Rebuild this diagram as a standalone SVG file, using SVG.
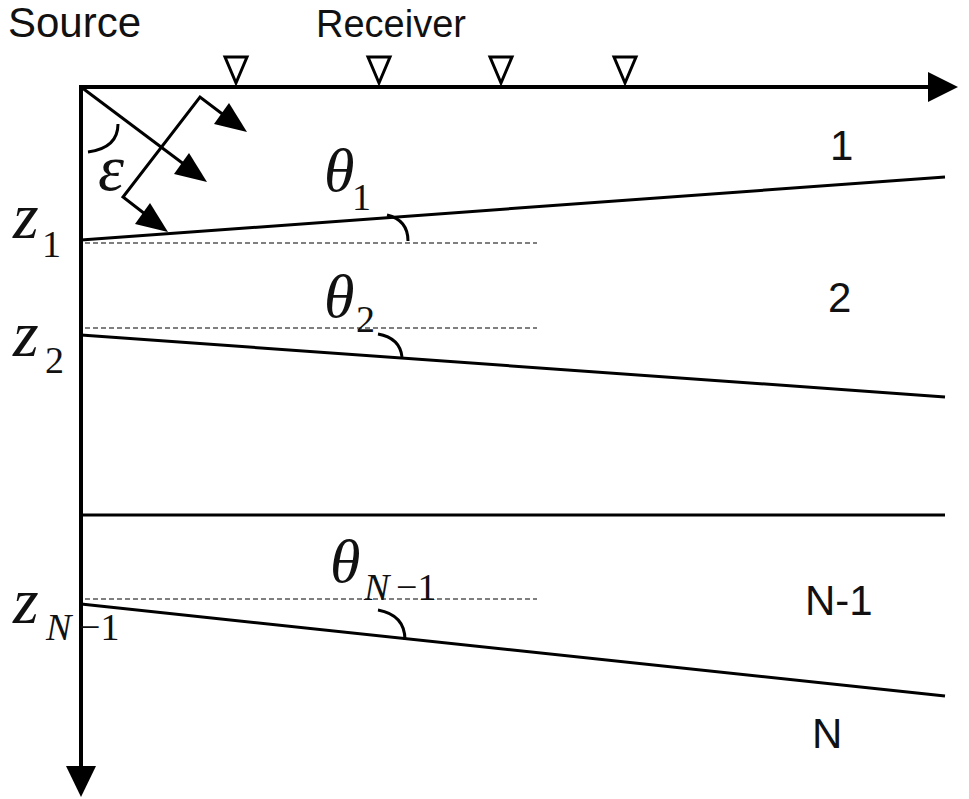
<svg xmlns="http://www.w3.org/2000/svg" width="969" height="799" viewBox="0 0 969 799">
<defs>
<style>
.ax{stroke:#000;stroke-width:4;fill:none}
.ln{stroke:#000;stroke-width:3;fill:none}
.ds{stroke:#555;stroke-width:1.5;stroke-dasharray:5 3;fill:none}
.arc{stroke:#000;stroke-width:3;fill:none}
.rc{stroke:#000;stroke-width:3;fill:#fff}
.sans{font-family:"Liberation Sans",Arial,sans-serif;fill:#111}
.math{font-family:"Liberation Serif","Times New Roman",serif;font-style:italic;fill:#111}
.num{font-family:"Liberation Serif","Times New Roman",serif;fill:#111}
</style>
</defs>
<rect width="969" height="799" fill="#fff"/>
<g id="labels">
<text class="sans" x="8" y="37" font-size="42">Source</text>
<text class="sans" x="316" y="37" font-size="38">Receiver</text>
</g>
<g id="connectors">
<line class="ax" x1="81" y1="87" x2="932" y2="87"/>
<path d="M958,87 L928,72 L928,102 z" fill="#000"/>
<line class="ax" x1="81" y1="85" x2="81" y2="770"/>
<path d="M81,797 L66,766 L96,766 z" fill="#000"/>
<line class="ln" x1="81" y1="240" x2="945" y2="177"/>
<line class="ln" x1="81" y1="335" x2="945" y2="397"/>
<line class="ln" x1="81" y1="515" x2="945" y2="515"/>
<line class="ln" x1="81" y1="604" x2="945" y2="696"/>
<line class="ds" x1="85" y1="243" x2="537" y2="243"/>
<line class="ds" x1="85" y1="328" x2="537" y2="328"/>
<line class="ds" x1="85" y1="599" x2="537" y2="599"/>
<path class="arc" d="M387,215 Q408,220 408,241"/>
<path class="arc" d="M378,334 Q400,338 402,357"/>
<path class="arc" d="M378,610 Q405,615 405,640"/>
<path class="arc" d="M88,152 Q118,148 118,124"/>
<line class="ln" x1="81" y1="87" x2="185" y2="165"/>
<path d="M207,182 L174,174 L189,153 z" fill="#000"/>
<polyline class="ln" points="225,116 200,97 123,197 145,214"/>
<path d="M247,132 L214,124 L229,103 z" fill="#000"/>
<path d="M168,232 L135,224 L150,203 z" fill="#000"/>
</g>
<g id="receivers">
<path class="rc" d="M225,57 L247,57 L236,83 z"/>
<path class="rc" d="M368,57 L390,57 L379,83 z"/>
<path class="rc" d="M490,57 L512,57 L501,83 z"/>
<path class="rc" d="M614,57 L636,57 L625,83 z"/>
</g>
<g id="math">
<text class="math" x="98" y="190" font-size="66">ε</text>
<text class="math" x="13" y="238" font-size="66">z</text>
<text class="num" x="42" y="257" font-size="38">1</text>
<text class="math" x="13" y="356" font-size="66">z</text>
<text class="num" x="45" y="373" font-size="38">2</text>
<text class="math" x="13" y="623" font-size="66">z</text>
<text class="math" x="46" y="640" font-size="38">N</text>
<text class="num" x="79" y="640" font-size="38">−1</text>
<text class="math" x="324" y="191" font-size="62">θ</text>
<text class="num" x="352" y="210" font-size="38">1</text>
<text class="math" x="324" y="317" font-size="62">θ</text>
<text class="num" x="356" y="332" font-size="38">2</text>
<text class="math" x="330" y="582" font-size="62">θ</text>
<text class="math" x="364" y="600" font-size="38">N</text>
<text class="num" x="396" y="600" font-size="38">−1</text>
</g>
<g id="layers">
<text class="sans" x="830" y="160" font-size="42">1</text>
<text class="sans" x="828" y="312" font-size="42">2</text>
<text class="sans" x="805" y="615" font-size="42">N-1</text>
<text class="sans" x="812" y="748" font-size="42">N</text>
</g>
</svg>
